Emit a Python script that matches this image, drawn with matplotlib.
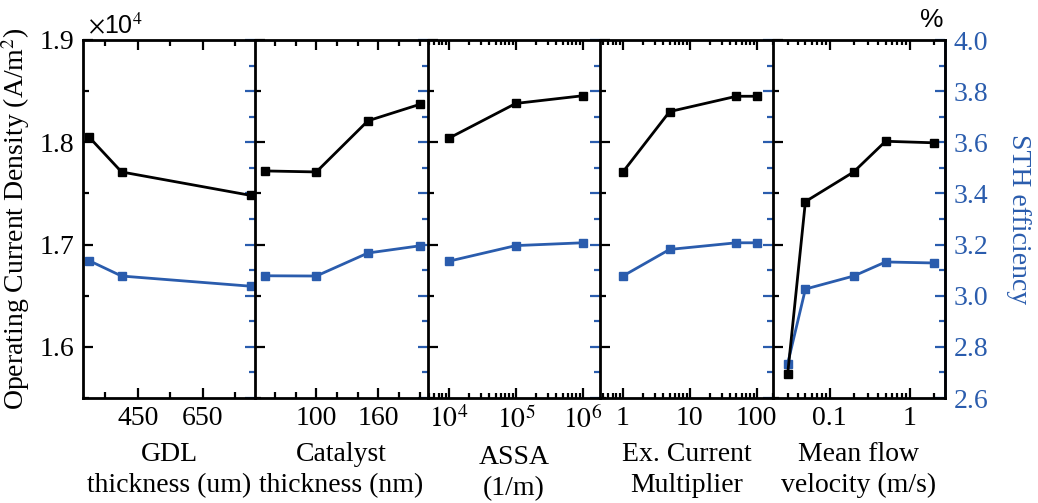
import matplotlib
matplotlib.use('Agg')
import matplotlib.pyplot as plt
from matplotlib.ticker import FixedLocator, FuncFormatter, LogLocator, NullFormatter, MultipleLocator, FixedFormatter

plt.rcParams['font.family'] = 'Liberation Serif'
plt.rcParams['mathtext.fontset'] = 'stix'

BLUE = '#2a5cad'

# ---------------- data ----------------
gdl_x = [300, 400, 800]
gdl_j = [18050, 17710, 17480]
gdl_sth = [3.137, 3.077, 3.037]

cat_x = [50, 100, 150, 200]
cat_j = [17720, 17710, 18210, 18370]
cat_sth = [3.078, 3.077, 3.167, 3.195]

assa_x = [1e4, 1e5, 1e6]
assa_j = [18040, 18380, 18455]
assa_sth = [3.135, 3.196, 3.207]

exc_x = [1, 5, 50, 100]
exc_j = [17710, 18300, 18450, 18450]
exc_sth = [3.077, 3.181, 3.207, 3.207]

vel_x = [0.03, 0.05, 0.2, 0.5, 2]
vel_j = [15730, 17420, 17710, 18010, 17995]
vel_sth = [2.733, 3.026, 3.077, 3.132, 3.128]

xlabels = ["GDL\nthickness (um)", "Catalyst\nthickness (nm)", "ASSA\n(1/m)",
           "Ex. Current\nMultiplier", "Mean flow\nvelocity (m/s)"]

panels = [
    dict(x=gdl_x, j=gdl_j, s=gdl_sth, log=False, xlim=(281, 813),
         major=[450, 650], minor=[350, 550, 750], labels=["450", "650"]),
    dict(x=cat_x, j=cat_j, s=cat_sth, log=False, xlim=(41, 208),
         major=[100, 160], minor=[60, 80, 120, 140, 180, 200], labels=["100", "160"]),
    dict(x=assa_x, j=assa_j, s=assa_sth, log=True, xlim=(10**3.685, 10**6.26),
         major=[1e4, 1e5, 1e6], labels=[r"$10^4$", r"$10^5$", r"$10^6$"]),
    dict(x=exc_x, j=exc_j, s=exc_sth, log=True, xlim=(10**-0.34, 10**2.24),
         major=[1, 10, 100], labels=["1", "10", "100"]),
    dict(x=vel_x, j=vel_j, s=vel_sth, log=True, xlim=(10**-1.71, 10**0.44),
         major=[0.1, 1], labels=["0.1", "1"]),
]

fig = plt.figure(figsize=(10.38, 5.03), dpi=100)
left, right, top, bottom = 83/1038, 945/1038, 1-40/503, 1-398/503
w = (right-left)/5

FS = 20
LW = 2.0
for i, p in enumerate(panels):
    ax = fig.add_axes([left + i*w, bottom, w, top-bottom])
    tw = ax.twinx()
    ax.set_zorder(tw.get_zorder() + 1)
    ax.patch.set_visible(False)

    if p['log']:
        ax.set_xscale('log')
    ax.plot(p['x'], p['j'], color='black', lw=LW, marker='s', ms=6, zorder=5)
    tw.plot(p['x'], p['s'], color=BLUE, lw=LW, marker='s', ms=6, zorder=5)
    ax.set_xlim(*p['xlim'])
    ax.set_ylim(15500, 19000)
    tw.set_ylim(2.6, 4.0)

    ax.xaxis.set_major_locator(FixedLocator(p['major']))
    ax.xaxis.set_major_formatter(FixedFormatter(p['labels']))
    if p['log']:
        ax.xaxis.set_minor_locator(LogLocator(base=10, subs=range(2, 10)))
    else:
        ax.xaxis.set_minor_locator(FixedLocator(p['minor']))
    ax.xaxis.set_minor_formatter(NullFormatter())

    ax.yaxis.set_major_locator(MultipleLocator(1000))
    ax.yaxis.set_minor_locator(MultipleLocator(500))
    ax.yaxis.set_major_formatter(FuncFormatter(lambda v, pos: f"{v/1e4:.1f}"))
    tw.yaxis.set_major_locator(MultipleLocator(0.2))
    tw.yaxis.set_minor_locator(MultipleLocator(0.1))
    tw.yaxis.set_major_formatter(FuncFormatter(lambda v, pos: f"{v:.1f}"))

    ax.tick_params(axis='both', which='both', direction='in', top=True, right=False,
                   labelsize=FS, width=1.6, colors='black')
    ax.tick_params(which='major', length=7, pad=6)
    ax.tick_params(which='minor', length=4)
    if p['log']:
        ax.tick_params(axis='x', which='minor', length=3.5)
    tw.tick_params(axis='y', which='both', direction='in', colors=BLUE, labelsize=FS, width=1.6)
    tw.tick_params(axis='y', which='major', length=7, pad=6)
    tw.tick_params(axis='y', which='minor', length=4)

    if i > 0:
        ax.tick_params(axis='y', labelleft=False)
    if i < 4:
        tw.tick_params(axis='y', labelright=False)

    for sp in ax.spines.values():
        sp.set_linewidth(LW)
        sp.set_color('black')
    for name, sp in tw.spines.items():
        sp.set_linewidth(LW)
        if name == 'right' and i == 4:
            sp.set_color(BLUE)
        else:
            sp.set_visible(False)
    if i < 4:
        ax.spines['right'].set_visible(False)

    ax.set_xlabel(xlabels[i], fontsize=FS, linespacing=1.3, labelpad=8)

    if i == 0:
        ax.set_ylabel("Operating Current Density (A/m$^2$)", fontsize=FS, labelpad=6)
    if i == 4:
        tw.set_ylabel("STH efficiency", fontsize=FS, color=BLUE, rotation=270, labelpad=31)

fig.text(88/1038, 1-25/503, r"$\times$10$^4$", fontsize=18, family='Liberation Sans',
         va='center', ha='left')
fig.text(932/1038, 1-20/503, "%", fontsize=19, family='Liberation Sans',
         va='center', ha='center')

fig.savefig('out.png', dpi=100)
